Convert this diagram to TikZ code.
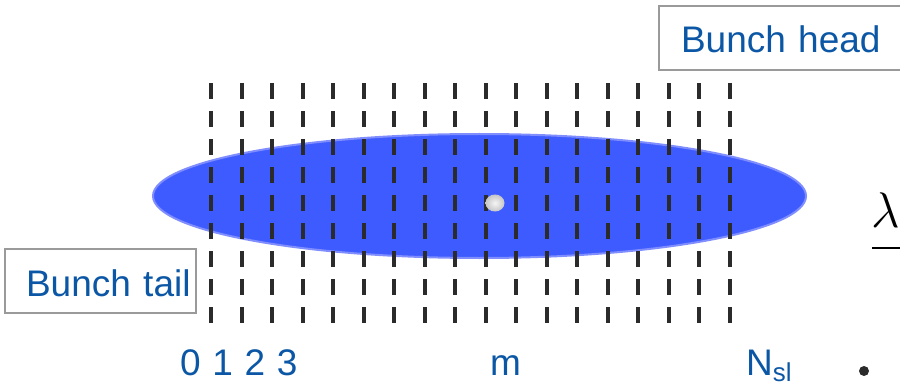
\RequirePackage{fix-cm}
\documentclass[tikz,border=0pt]{standalone}
\usepackage{fontspec}
\setmainfont{Liberation Sans}
\definecolor{labelblue}{HTML}{0B57A5}
\definecolor{bunchblue}{HTML}{3D5BFF}
\definecolor{bunchedge}{HTML}{7F8DFF}
\definecolor{slicegrey}{HTML}{2B2B2B}
\definecolor{boxgrey}{HTML}{9A9A9A}
\tikzset{
  tag/.style={font=\fontsize{37}{40}\selectfont, text=labelblue, inner sep=0pt},
  tagbox/.style={tag, draw=boxgrey, line width=2pt, minimum height=64pt,
    text height=30pt, text depth=0pt, align=left},
  slice/.style={draw=slicegrey, line width=4pt, dash pattern=on 16pt off 12pt},
}
\begin{document}
\begin{tikzpicture}[x=1pt,y=-1pt]
\clip (0,0) rectangle (900,385);
% bunch
\draw[fill=bunchblue, draw=bunchedge, line width=2pt] (479.5,196) ellipse [x radius=326.5, y radius=62];
% slices
\foreach \k in {0,...,17}
  \draw[slice] (211+30.5*\k,83) -- (211+30.5*\k,323);
\shade[inner color=gray!8, outer color=gray!45] (495,203) ellipse [x radius=9.5, y radius=8.5];
% boxes
\node[tagbox, inner xsep=22pt, text width=204pt, anchor=north west] (head) at (658,5) {\mbox{Bunch head}};
\node[tagbox, inner xsep=21pt, text width=149pt, anchor=north west] (tail) at (4,248) {\mbox{Bunch tail}};
% slice numbers
\foreach \i in {0,...,3}
  \node[tag, anchor=base] (n\i) at (190.5+32.2*\i,375) {\i};
\node[tag, anchor=base west] (nm) at (490,375) {m};
\node[tag, anchor=base west] (nsl) at (746,375) {N\textsubscript{sl}};
% cut-off formula and bullet
\node[inner sep=0pt, anchor=base west, font=\fontsize{50}{50}\selectfont] (lam) at (871,227) {$\lambda$};
\draw[line width=1.5pt] (872,248) -- (905,248);
\fill[slicegrey] (864,371) circle (5);
\end{tikzpicture}
\end{document}
